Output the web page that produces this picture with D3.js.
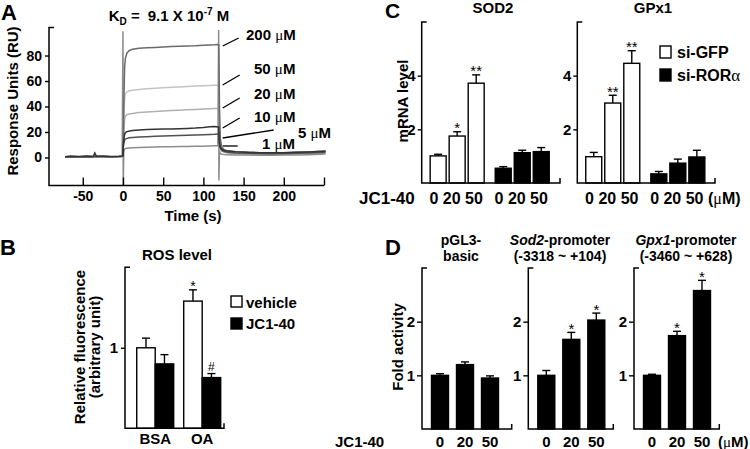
<!DOCTYPE html>
<html><head><meta charset="utf-8">
<script src="https://cdn.jsdelivr.net/npm/d3@7/dist/d3.min.js"></script>
<style>
body{margin:0;background:#fff;}
svg text{font-family:"Liberation Sans",Arial,Helvetica,sans-serif;font-weight:bold;fill:#000;}
.greek{font-family:"Liberation Serif","DejaVu Serif",serif;font-weight:normal;}
.star{font-weight:normal;}
</style></head><body>
<svg id="chart" width="750" height="449" xmlns="http://www.w3.org/2000/svg"></svg>
<script>
// ================= DATA =================
// Panel A : SPR sensorgram (Response Units vs time)
const sprTime = [-72,-65,-55,-45,-37,-35,-33,-25,-15,-5,-1,0,0.3,1,2,3,5,8,12,20,30,40,50,60,70,80,90,100,108,114,118,119,119.3,120,121,123,126,130,140,155,170,185,200,215,230,245,252];
const spr200 = [0.5,0.8,0.6,0.9,0.7,1.0,0.8,0.9,0.6,0.8,1.0, 1.2,5,40,70,78,82,84,85,85.8,86.2,86.4,86.7,87,87.2,87.4,87.6,88,88.2,88.4,88.6,88.5,80,40,15,8,6,5.2,4.5,4,3.8,3.7,3.8,4,4.3,4.8,5];
const spr50  = [0.3,0.6,0.4,0.7,0.5,0.8,0.6,0.7,0.5,0.6,0.8, 1,4,30,46,50,51.5,52.3,52.8,53.4,53.9,54.3,54.7,55.1,55.4,55.7,56,56.3,56.5,56.7,56.8,56.7,50,25,10,6,4.5,4,3.5,3.2,3,3,3.1,3.3,3.6,4,4.2];
const spr20  = [0.4,0.7,0.5,0.8,0.6,0.9,0.7,0.8,0.5,0.7,0.9, 1,4,20,30,32.5,33.5,34.2,34.6,35.2,35.7,36.1,36.5,36.8,37.1,37.4,37.7,38,38.2,38.4,38.5,38.4,34,18,8,5,4,3.5,3,2.7,2.5,2.5,2.6,2.8,3,3.3,3.5];
const spr10  = [0.6,0.9,0.7,1.0,0.8,3.5,0.9,1.0,0.7,0.9,1.1, 1.3,10,14,18,19.5,20.3,20.8,21.2,21.6,21.9,22.1,22.3,22.4,22.6,22.8,23.1,23.6,24.2,24.3,24,23.8,20,12,8,6.5,5.5,5,4.4,4,3.8,3.7,3.8,4,4.2,4.6,4.8];
const spr5   = [0.5,0.7,0.6,0.8,0.6,0.9,0.7,0.8,0.6,0.8,1.0, 1.2,8,11,13.5,14.5,15,15.4,15.7,16,16.3,16.6,16.9,17.1,17.3,17.5,17.7,17.9,18.1,18.3,18.5,18.4,15,10,7,5.5,4.6,4.1,3.6,3.3,3.1,3.0,3.1,3.3,3.5,3.9,4.1];
const spr1   = [0.4,0.6,0.5,0.7,0.5,0.8,0.6,0.7,0.5,0.7,0.8, 99,-22,4,6.5,7,7.3,7.5,7.7,7.9,8.1,8.3,8.4,8.5,8.6,8.7,8.8,8.9,9,9.1,9.2,100,-18,5,3,2.5,2.3,2.2,2,1.9,1.8,1.8,1.9,2,2.2,2.5,2.7];
const sprLabels = ["200 μM","50 μM","20 μM","10 μM","5 μM","1 μM"];
const sprXTicks = [-50,0,50,100,150,200,250];
const sprYTicks = [0,20,40,60,80];

// Panel B : ROS level
const rosGroups = ["BSA","OA"];
const rosSeries = ["vehicle","JC1-40"];
const rosVehicle = [1.00, 1.58];
const rosVehicleErr = [0.12, 0.14];
const rosJC = [0.80, 0.63];
const rosJCErr = [0.115, 0.05];
const rosVehicleMarks = ["", "*"];
const rosJCMarks = ["", "#"];

// Panel C : mRNA level
const cGroups = ["si-GFP","si-RORα"];
const cDoses = ["0","20","50"];
const sod2GFP = [1.01, 1.75, 3.72];
const sod2GFPErr = [0.06, 0.16, 0.31];
const sod2ROR = [0.55, 1.13, 1.17];
const sod2RORErr = [0.06, 0.09, 0.15];
const sod2Marks = ["", "*", "**"];
const gpx1GFP = [0.98, 2.98, 4.46];
const gpx1GFPErr = [0.16, 0.29, 0.47];
const gpx1ROR = [0.34, 0.74, 0.97];
const gpx1RORErr = [0.09, 0.15, 0.25];
const gpx1Marks = ["", "**", "**"];

// Panel D : promoter fold activity
const dDoses = ["0","20","50"];
const pgl3 = [1.00, 1.20, 0.95];
const pgl3Err = [0.03, 0.05, 0.04];
const pgl3Marks = ["", "", ""];
const sod2Prom = [1.00, 1.67, 2.03];
const sod2PromErr = [0.09, 0.13, 0.13];
const sod2PromMarks = ["", "*", "*"];
const gpx1Prom = [1.00, 1.74, 2.58];
const gpx1PromErr = [0.02, 0.08, 0.19];
const gpx1PromMarks = ["", "*", "*"];

// ================= DRAWING =================
const FONT = '"Liberation Sans", Arial, Helvetica, sans-serif';
const svg = d3.select("#chart");
svg.append("rect").attr("width",750).attr("height",449).attr("fill","#fff");
const intFmt = d3.format("d");

function text(g, x, y, s, size, anchor){
  return g.append("text").attr("x",x).attr("y",y).attr("font-size",size)
    .attr("text-anchor",anchor||"start").text(s);
}
function muText(g, x, y, num, unit, size, anchor){
  const t = g.append("text").attr("x",x).attr("y",y).attr("font-size",size).attr("text-anchor",anchor||"start");
  t.append("tspan").text(num);
  t.append("tspan").attr("class","greek").text("μ");
  t.append("tspan").text(unit);
  return t;
}
function vtext(g, x, y, s, size){
  return g.append("text").attr("transform",`translate(${x},${y}) rotate(-90)`)
    .attr("font-size",size).attr("text-anchor","middle").attr("dy","0.35em").text(s);
}
function styleAxis(sel, size){
  sel.attr("font-size",size).attr("font-family",FONT).attr("font-weight","bold");
  sel.select(".domain").remove();
  sel.selectAll(".tick line").attr("stroke","#000").attr("stroke-width",1.4);
  sel.selectAll(".tick text").attr("fill","#000");
}
function frame(g, x0, x1, yTop, yBot, rightCap){
  const cap = 5;
  let d = `M${x0+cap},${yTop}H${x0}V${yBot}H${x1}`;
  if (rightCap) d += `V${yBot-cap}`;
  g.append("path").attr("d",d).attr("fill","none").attr("stroke","#000").attr("stroke-width",1.5);
}
function bar(g, x, w, yScale, v, e, fill, mark, markSize){
  const y0 = yScale(0), yv = yScale(v), ye = yScale(v+e), cx = x + w/2;
  g.append("line").attr("x1",cx).attr("x2",cx).attr("y1",yv).attr("y2",ye).attr("stroke","#000").attr("stroke-width",1.4);
  g.append("line").attr("x1",cx-4).attr("x2",cx+4).attr("y1",ye).attr("y2",ye).attr("stroke","#000").attr("stroke-width",1.4);
  g.append("rect").attr("x",x).attr("y",yv).attr("width",w).attr("height",y0-yv)
    .attr("fill",fill).attr("stroke","#000").attr("stroke-width",1.4);
  if (mark){
    const off = mark === "#" ? -3 : 1.5;
    g.append("text").attr("class","star").attr("x",cx).attr("y",ye+off)
      .attr("font-size",markSize||15).attr("text-anchor","middle").text(mark);
  }
}

// ---------- Panel A ----------
(function(){
  const g = svg.append("g");
  const x = d3.scaleLinear().domain([-92,250]).range([49,324]);
  const y = d3.scaleLinear().domain([-22,102]).range([185.5,27.5]);
  text(g, 1, 20, "A", 22);
  const t = g.append("text").attr("x",169).attr("y",21).attr("font-size",15).attr("text-anchor","middle");
  t.append("tspan").text("K");
  t.append("tspan").attr("font-size",10).attr("dy",4).text("D");
  t.append("tspan").attr("dy",-4).text(" =");
  t.append("tspan").attr("dx",8).text("9.1 X 10");
  t.append("tspan").attr("font-size",10).attr("dy",-6).text("-7");
  t.append("tspan").attr("dy",6).text(" M");

  const series = [
    {v:spr50, c:"#c4c4c4"},{v:spr20, c:"#b0b0b0"},{v:spr1, c:"#8c8c8c"},
    {v:spr200, c:"#6a6a6a"},{v:spr5, c:"#505050"},{v:spr10, c:"#333"}
  ];
  const line = d3.line().x((d,i)=>x(sprTime[i])).y(d=>y(d));
  series.forEach(s=>{
    g.append("path").attr("d",line(s.v)).attr("fill","none").attr("stroke",s.c).attr("stroke-width",1.5);
  });

  const ax = g.append("g").attr("transform","translate(0,185.5)")
    .call(d3.axisBottom(x).tickValues(sprXTicks).tickSize(-8).tickSizeOuter(0).tickPadding(6)
      .tickFormat(d=>d===250?"":d));
  styleAxis(ax, 14);
  const ay = g.append("g").attr("transform","translate(49,0)")
    .call(d3.axisLeft(y).tickValues(sprYTicks).tickSize(4).tickSizeOuter(0).tickPadding(3));
  styleAxis(ay, 14);
  frame(g, 49, 324, 27.5, 185.5, false);

  text(g, 193, 221, "Time (s)", 15, "middle");
  vtext(g, 13, 101, "Response Units (RU)", 15);

  // concentration labels with leader lines (start at end of association phase)
  const lab = [
    {dx:16, dy:-8, lx:246, ly:40},
    {dx:17, dy:-10, lx:254, ly:74},
    {dx:17, dy:-10, lx:254, ly:99},
    {dx:17, dy:-10, lx:254, ly:122},
    {dx:51, dy:-8, lx:298, ly:138},
    {dx:15, dy:0, lx:262, ly:149}
  ];
  const yStart = [46, 85, 108, 128, 138, 146];
  lab.forEach((L,i)=>{
    const x1 = x(124);
    g.append("line").attr("x1",x1).attr("y1",yStart[i]).attr("x2",x1+L.dx).attr("y2",yStart[i]+L.dy)
      .attr("stroke","#000").attr("stroke-width",1.3);
    const parts = sprLabels[i].split("μ");
    muText(g, L.lx, L.ly, parts[0], parts[1], 15);
  });
})();

// ---------- Panel B ----------
(function(){
  const g = svg.append("g");
  const y = d3.scaleLinear().domain([0,2]).range([428.3,267.3]);
  const xg = d3.scaleBand().domain(rosGroups).range([125,224]).paddingInner(0.213).paddingOuter(0.16).align(0.78);
  const xs = d3.scaleBand().domain(rosSeries).range([0,xg.bandwidth()]);
  text(g, 0, 255, "B", 22);
  text(g, 177, 260, "ROS level", 15, "middle");
  rosGroups.forEach((grp,i)=>{
    bar(g, xg(grp)+xs("vehicle"), xs.bandwidth(), y, rosVehicle[i], rosVehicleErr[i], "#fff", rosVehicleMarks[i], 14);
    bar(g, xg(grp)+xs("JC1-40"), xs.bandwidth(), y, rosJC[i], rosJCErr[i], "#000", rosJCMarks[i], 12);
  });
  const ay = g.append("g").attr("transform","translate(125,0)")
    .call(d3.axisLeft(y).tickValues([1]).tickSize(4).tickSizeOuter(0).tickPadding(3).tickFormat(intFmt));
  styleAxis(ay, 15);
  frame(g, 125, 224, 267.3, 428.3, true);
  const ax = g.append("g").attr("transform","translate(0,428.3)")
    .call(d3.axisBottom(xg).tickSize(0).tickPadding(5));
  styleAxis(ax, 15);
  vtext(g, 80, 347, "Relative fluorescence", 15);
  vtext(g, 95, 347, "(arbitrary unit)", 15);
  // legend
  g.append("rect").attr("x",231).attr("y",296).attr("width",11).attr("height",11).attr("fill","#fff").attr("stroke","#000").attr("stroke-width",1.4);
  g.append("rect").attr("x",231).attr("y",318).attr("width",11).attr("height",11).attr("fill","#000").attr("stroke","#000").attr("stroke-width",1.4);
  text(g, 246, 308, rosSeries[0], 15);
  text(g, 246, 329, rosSeries[1], 15);
})();

// ---------- Panel C ----------
(function(){
  const g = svg.append("g");
  const y = d3.scaleLinear().domain([0,6]).range([183,22]);
  text(g, 385, 18, "C", 21);
  const subs = [
    {title:"SOD2", x0:421.7, x1:560, cx:493, gfp:sod2GFP, gfpE:sod2GFPErr, marks:sod2Marks, ror:sod2ROR, rorE:sod2RORErr},
    {title:"GPx1", x0:577.3, x1:715, cx:653, gfp:gpx1GFP, gfpE:gpx1GFPErr, marks:gpx1Marks, ror:gpx1ROR, rorE:gpx1RORErr}
  ];
  subs.forEach(s=>{
    const xg = d3.scaleBand().domain(cGroups).range([s.x0, s.x0+136]).paddingInner(0.17).paddingOuter(0.13);
    const xd = d3.scaleBand().domain(cDoses).range([0, xg.bandwidth()]).paddingInner(0.16);
    cDoses.forEach((d,i)=>{
      bar(g, xg(cGroups[0])+xd(d), xd.bandwidth(), y, s.gfp[i], s.gfpE[i], "#fff", s.marks[i], 15);
      bar(g, xg(cGroups[1])+xd(d), xd.bandwidth(), y, s.ror[i], s.rorE[i], "#000", "", 15);
    });
    // dose labels written as one spaced row under each group
    cGroups.forEach(grp=>{
      text(g, xg(grp)+xg.bandwidth()/2 - 1, 204, cDoses.join(" "), 16, "middle");
    });
    const ay = g.append("g").attr("transform",`translate(${s.x0},0)`)
      .call(d3.axisLeft(y).tickValues([2,4]).tickSize(4).tickSizeOuter(0).tickPadding(2).tickFormat(intFmt));
    styleAxis(ay, 15);
    frame(g, s.x0, s.x1, 22, 183, true);
    text(g, s.cx, 13, s.title, 15, "middle");
  });
  vtext(g, 403, 101, "mRNA level", 15);
  text(g, 359, 204, "JC1-40", 17);
  muText(g, 708, 204, "(", "M)", 16);
  // legend
  g.append("rect").attr("x",660).attr("y",46).attr("width",11).attr("height",12).attr("fill","#fff").attr("stroke","#000").attr("stroke-width",1.4);
  g.append("rect").attr("x",660).attr("y",69).attr("width",11).attr("height",12).attr("fill","#000").attr("stroke","#000").attr("stroke-width",1.4);
  text(g, 677, 58, "si-GFP", 16);
  const t = text(g, 677, 81, "si-ROR", 16);
  t.append("tspan").attr("class","greek").attr("font-size",17).text("α");
})();

// ---------- Panel D ----------
(function(){
  const g = svg.append("g");
  const y = d3.scaleLinear().domain([0,3]).range([429,268]);
  text(g, 385, 255, "D", 22);
  const subs = [
    {x0:422, x1:511.7, v:pgl3, e:pgl3Err, m:pgl3Marks, cx:461, t1:[["pGL3-",false]], t2:"basic"},
    {x0:528.3, x1:613.3, v:sod2Prom, e:sod2PromErr, m:sod2PromMarks, cx:560, t1:[["Sod2",true],["-promoter",false]], t2:"(-3318 ~ +104)"},
    {x0:634, x1:719.3, v:gpx1Prom, e:gpx1PromErr, m:gpx1PromMarks, cx:686, t1:[["Gpx1",true],["-promoter",false]], t2:"(-3460 ~ +628)"}
  ];
  subs.forEach(s=>{
    const xb = d3.scaleBand().domain(dDoses).range([s.x0, s.x0+86]).paddingInner(0.32).paddingOuter(0.38);
    dDoses.forEach((d,i)=>{
      bar(g, xb(d), xb.bandwidth(), y, s.v[i], s.e[i], "#000", s.m[i], 15);
      text(g, xb(d)+xb.bandwidth()/2, 447, d, 15, "middle");
    });
    const ay = g.append("g").attr("transform",`translate(${s.x0},0)`)
      .call(d3.axisLeft(y).tickValues([1,2]).tickSize(5).tickSizeOuter(0).tickPadding(2).tickFormat(intFmt));
    styleAxis(ay, 15);
    frame(g, s.x0, s.x1, 268, 429, true);
    const tt = g.append("text").attr("x",s.cx).attr("y",245).attr("font-size",14).attr("text-anchor","middle");
    s.t1.forEach(p=>{ const sp = tt.append("tspan").text(p[0]); if(p[1]) sp.attr("font-style","italic"); });
    text(g, s.cx, 261, s.t2, 14, "middle");
  });
  vtext(g, 398, 347, "Fold activity", 15);
  text(g, 335, 447, "JC1-40", 15);
  muText(g, 718, 447, "(", "M)", 15);
})();
</script>
</body></html>
